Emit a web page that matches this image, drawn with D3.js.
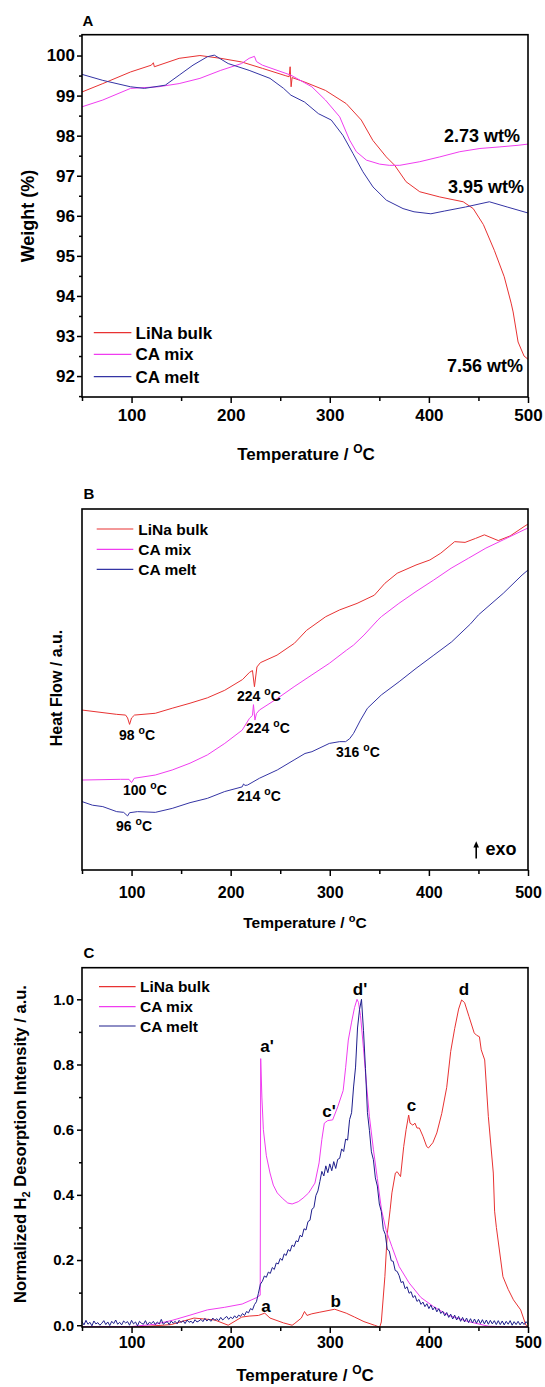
<!DOCTYPE html>
<html>
<head>
<meta charset="utf-8">
<script src="https://cdn.jsdelivr.net/npm/d3@7"></script>
<style>
  body { margin: 0; background: #fff; }
  text { font-family: "Liberation Sans", Arial, sans-serif; font-weight: bold; fill: #000; }
</style>
</head>
<body>
<svg id="fig" width="545" height="1387"></svg>
<script>
// ---- series ----
const seriesNames = ["LiNa bulk", "CA mix", "CA melt"];
const seriesColors = ["#e83232", "#f03cf0", "#3434a4"];
const meltDarkC = "#1e1e8c";

// ---- A: TGA weight (%) vs temperature (°C) ----
const tgaLiNa = [[50,99.09],[71,99.30],[99,99.59],[120,99.76],[122,99.82],[123,99.72],[148,99.93],[169,100.0],[190,99.93],[211,99.84],[232,99.68],[255,99.50],[259,99.47],[260,99.72],[261,99.22],[262,99.45],[274.5,99.34],[295.6,99.13],[316.6,98.80],[331.8,98.39],[343.5,97.88],[357,97.47],[365.5,97.26],[377,96.85],[390.8,96.60],[411,96.47],[434.6,96.35],[444.7,96.18],[455,95.78],[466,95.14],[476,94.48],[483,93.82],[485,93.60],[490,92.85],[496,92.50],[500,92.42]];
const tgaMix = [[50,98.72],[71,98.89],[99,99.18],[127,99.22],[148,99.30],[169,99.43],[190,99.63],[211,99.80],[218.6,99.93],[224,99.98],[226,99.85],[232,99.76],[260.8,99.51],[281.9,99.22],[295.6,98.89],[310,98.47],[320,97.89],[326.8,97.60],[336.9,97.39],[350.3,97.29],[360,97.26],[370.6,97.26],[390.8,97.35],[411,97.47],[431.2,97.60],[451.5,97.68],[471.7,97.72],[490,97.76],[500,97.79]];
const tgaMelt = [[50,99.53],[71,99.38],[99,99.22],[113,99.18],[134,99.26],[148,99.51],[162,99.76],[176.5,99.97],[183.5,100.01],[197.5,99.80],[218.6,99.63],[239.7,99.43],[253.4,99.18],[260.8,99.01],[274.5,98.84],[288.5,98.55],[301.5,98.39],[313.2,98.01],[323.3,97.56],[333.4,97.10],[343.6,96.72],[357.1,96.39],[373.9,96.18],[385,96.10],[402,96.05],[416,96.12],[437,96.22],[461,96.35],[479,96.22],[500,96.07]];
const tgaYTicks = [92, 93, 94, 95, 96, 97, 98, 99, 100];
const tgaNotes = [["2.73 wt%", 520, 141.7], ["3.95 wt%", 524, 192.7], ["7.56 wt%", 523, 371.7]];

// ---- B: DSC heat flow (a.u.) ----
const dscLiNa = [[50,4.40],[85,4.28],[94,4.26],[96,4.18],[98,4.00],[100,4.18],[103,4.26],[124,4.31],[141,4.45],[159,4.59],[176.5,4.74],[194,4.95],[212,5.25],[219,5.45],[222,5.50],[224,5.05],[226.5,5.60],[230,5.72],[246.8,5.93],[264.3,6.26],[276.6,6.62],[295.9,7.00],[310,7.19],[327.5,7.37],[345,7.60],[355.6,7.93],[368,8.21],[387,8.44],[401,8.58],[412,8.77],[426,9.09],[436.5,9.07],[447,9.18],[456,9.28],[470,9.12],[482,9.25],[496,9.51],[500,9.58]];
const dscMix = [[50,2.45],[88.7,2.47],[97.4,2.47],[100,2.38],[102.7,2.50],[124,2.59],[141,2.73],[159,2.92],[176.5,3.15],[194,3.47],[211.6,3.84],[219,4.17],[222,4.25],[223,4.55],[224.5,4.12],[226,4.30],[229,4.40],[247,4.72],[264,5.05],[282,5.38],[299.5,5.70],[317,6.07],[324,6.21],[334.6,6.49],[348.6,6.91],[352,7.00],[369.7,7.37],[387,7.70],[404.8,8.02],[422.4,8.35],[440,8.63],[457.5,8.91],[475,9.14],[496,9.42],[500,9.47]];
const dscMelt = [[50,1.85],[60.5,1.75],[71,1.71],[85,1.57],[92,1.55],[96,1.45],[98,1.54],[106,1.57],[124,1.55],[141,1.66],[159,1.82],[176.5,1.94],[194,2.13],[211.6,2.26],[213,2.34],[214.5,2.30],[217,2.31],[229,2.50],[247,2.73],[264,3.01],[275,3.19],[282,3.24],[299.5,3.47],[310,3.52],[316,3.52],[320,3.60],[324,3.75],[331,4.12],[338,4.45],[352,4.82],[370,5.19],[387,5.56],[405,5.93],[423,6.30],[442,6.80],[450,7.05],[475,7.65],[494,8.16],[500,8.30]];
// [label, left x, baseline]
const dscNotes = [["98", 119, 740], ["224", 237, 701], ["224", 246, 733], ["316", 336, 757], ["100", 123, 795], ["214", 237, 801], ["96", 116, 831]];

// ---- C: normalized H2 desorption intensity ----
const tpdLiNa = [[50,-0.004],[113,-0.004],[140,0.002],[163,0.022],[184,0.016],[197.5,0.0],[211.2,0.025],[218.6,0.028],[228,0.030],[234.4,0.037],[239.7,0.022],[253.4,0.007],[262,0.0],[264,0.004],[271.3,0.022],[274.5,0.042],[277,0.030],[281.9,0.035],[290,0.040],[305,0.049],[316.6,0.037],[325,0.025],[334.5,0.011],[345.1,0.0],[350.4,-0.006],[352,0.010],[355.6,0.149],[358,0.28],[360.9,0.354],[362.7,0.406],[366.2,0.467],[368,0.471],[371.4,0.456],[374.6,0.548],[377,0.60],[379.6,0.645],[381,0.62],[383.8,0.614],[386,0.62],[388,0.605],[390.4,0.605],[394,0.58],[397.8,0.548],[399.6,0.544],[404,0.56],[408,0.59],[413,0.65],[418,0.73],[422,0.84],[426,0.91],[430,0.97],[433,0.998],[436,0.99],[440.5,0.947],[445.7,0.897],[448,0.89],[451,0.885],[452.8,0.845],[456.3,0.814],[460,0.64],[465,0.467],[466.3,0.35],[468.1,0.30],[474.7,0.149],[480,0.11],[485.3,0.078],[492.6,0.047],[497.9,0.0],[500,-0.005]];
const tpdMix = [[50,-0.004],[100,-0.004],[124,0.003],[141,0.015],[158,0.030],[176.5,0.047],[194,0.055],[211.6,0.065],[225.7,0.084],[229.8,0.092],[230.3,0.818],[231.5,0.70],[233,0.60],[236,0.52],[239.7,0.467],[243,0.43],[247,0.406],[252,0.39],[257.6,0.375],[262,0.372],[268.2,0.379],[273,0.39],[278.7,0.406],[285,0.436],[289.2,0.498],[292,0.57],[294.5,0.62],[298,0.628],[302.9,0.63],[308,0.67],[313.5,0.72],[316,0.79],[318.7,0.875],[322,0.93],[325,0.975],[327.5,1.0],[329,0.99],[331,0.95],[334,0.85],[337,0.74],[340,0.64],[344,0.54],[348,0.45],[352.2,0.354],[357,0.29],[362.7,0.241],[370,0.18],[380,0.13],[392,0.085],[404.8,0.057],[420,0.030],[440,0.011],[460,-0.003],[480,-0.005],[500,-0.005]];
// CA melt trace, sampled every 2 °C from 50 to 500 °C
const tpdMeltT = d3.range(50, 501, 2);
const tpdMelt = [
  .011,.001,.015,.003,.009,-.002,.013,.004,.008,.000,
  .006,.014,.002,.010,-.001,.012,.005,.016,.003,.009,
  .001,.013,.007,.011,.000,.015,.004,.010,-.002,.012,
  .006,.003,.014,.001,.009,.005,.012,.002,.010,.004,
  .018,.003,.008,.011,.002,.013,.006,.012,.004,.015,
  .008,.014,.005,.016,.009,.012,.006,.017,.010,.013,
  .018,.011,.021,.013,.019,.012,.022,.015,.020,.014,
  .024,.016,.022,.027,.018,.025,.020,.029,.022,.031,
  .027,.036,.030,.042,.038,.051,.047,.063,.072,.098,
  .126,.135,.151,.147,.163,.159,.177,.171,.191,.188,
  .205,.199,.219,.214,.232,.227,.246,.241,.259,.256,
  .276,.271,.296,.292,.318,.322,.356,.361,.398,.412,
  .441,.472,.458,.489,.468,.495,.474,.502,.481,.509,
  .512,.541,.533,.571,.568,.631,.652,.731,.792,.912,
  .968,1.000,.905,.788,.652,.598,.532,.508,.452,.427,
  .372,.349,.294,.279,.233,.228,.198,.196,.168,.165,
  .152,.131,.134,.112,.118,.098,.103,.085,.091,.073,
  .079,.064,.071,.057,.066,.051,.062,.047,.056,.041,
  .051,.036,.043,.029,.039,.024,.034,.019,.031,.016,
  .027,.012,.024,.010,.022,.008,.020,.007,.019,.006,
  .018,.005,.017,.004,.016,.003,.015,.004,.014,.002,
  .014,.002,.013,.001,.012,.003,.014,.000,.011,.002,
  .012,.001,.010,.002,.011,.004
];
const tpdYTicks = [0, 0.2, 0.4, 0.6, 0.8, 1.0];
const tpdYMinor = [0.1, 0.3, 0.5, 0.7, 0.9];
// [label, centre x, baseline]
const tpdNotes = [["d'", 360, 995], ["d", 464, 995], ["a'", 267, 1052], ["c'", 329, 1117], ["c", 411.6, 1111], ["a", 266, 1311.7], ["b", 335.7, 1307.3]];

const tempMajor = [100, 200, 300, 400, 500];
const tempMinor = [50, 150, 250, 350, 450];

// ---- drawing ----
const svg = d3.select("#fig");
svg.append("rect").attr("width", 545).attr("height", 1387).attr("fill", "#fff");

const L = 82, R = 528;
const x = d3.scaleLinear([50, 500], [L, R]);

function frame(top, bottom) {
  svg.append("rect").attr("x", L).attr("y", top).attr("width", R - L).attr("height", bottom - top)
    .attr("fill", "none").attr("stroke", "#000").attr("stroke-width", 1.6);
}

function xAxis(bottom, fontSize, pad) {
  const g = svg.append("g").attr("transform", `translate(0,${bottom})`)
    .call(d3.axisBottom(x).tickValues(tempMajor).tickSize(6).tickPadding(pad).tickSizeOuter(0));
  g.select(".domain").remove();
  g.selectAll("line").attr("stroke-width", 1.5);
  g.selectAll("text").attr("font-size", fontSize).attr("font-family", null);
  const m = svg.append("g").attr("transform", `translate(0,${bottom})`)
    .call(d3.axisBottom(x).tickValues(tempMinor).tickSize(4).tickFormat(""));
  m.select(".domain").remove();
  m.selectAll("line").attr("stroke-width", 1.5);
}

function yAxis(y, major, minor, fmt, fontSize, pad) {
  const g = svg.append("g").attr("transform", `translate(${L},0)`)
    .call(d3.axisLeft(y).tickValues(major).tickFormat(fmt).tickSize(5).tickPadding(pad).tickSizeOuter(0));
  g.select(".domain").remove();
  g.selectAll("line").attr("stroke-width", 1.5);
  g.selectAll("text").attr("font-size", fontSize).attr("font-family", null);
  const m = svg.append("g").attr("transform", `translate(${L},0)`)
    .call(d3.axisLeft(y).tickValues(minor).tickSize(3).tickFormat(""));
  m.select(".domain").remove();
  m.selectAll("line").attr("stroke-width", 1.5);
}

function curve(data, y, color, width) {
  svg.append("path").datum(data)
    .attr("d", d3.line().x(d => x(d[0])).y(d => y(d[1])))
    .attr("fill", "none").attr("stroke", color).attr("stroke-width", width || 1)
    .attr("stroke-linejoin", "round");
}

function legend(x0, x1, ys, tx, fontSize, colors) {
  seriesNames.forEach((name, i) => {
    svg.append("line").attr("x1", x0).attr("x2", x1).attr("y1", ys[i]).attr("y2", ys[i])
      .attr("stroke", colors[i]).attr("stroke-width", 1.2);
    svg.append("text").attr("x", tx).attr("y", ys[i]).attr("dy", "0.36em")
      .attr("font-size", fontSize).text(name);
  });
}

function tempLabel(cx, baseline, fontSize, supText, supSize, rise) {
  const t = svg.append("text").attr("x", cx).attr("y", baseline).attr("text-anchor", "middle")
    .attr("font-size", fontSize);
  t.append("tspan").text("Temperature / ");
  t.append("tspan").attr("font-size", supSize).attr("dy", -rise).text(supText);
  t.append("tspan").attr("dy", rise).text("C");
}

function yLabel(cy, baselineX, fontSize, build) {
  const t = svg.append("text").attr("transform", `translate(${baselineX},${cy}) rotate(-90)`)
    .attr("text-anchor", "middle").attr("font-size", fontSize);
  build(t);
}

function panelLetter(txt, px, py) {
  svg.append("text").attr("x", px).attr("y", py).attr("font-size", 15).text(txt);
}

// Panel A
const aTop = 34.7, aBottom = 397;
const yA = d3.scaleLinear([91.46, 100.52], [397.7, 34.7]);
panelLetter("A", 82.5, 26);
curve(tgaLiNa, yA, seriesColors[0]);
curve(tgaMix, yA, seriesColors[1]);
curve(tgaMelt, yA, seriesColors[2]);
frame(aTop, aBottom);
xAxis(aBottom, 17, 6);
yAxis(yA, tgaYTicks, d3.range(91.5, 100.6, 1), d3.format("d"), 17, 2);
tgaNotes.forEach(([s, tx, ty]) => svg.append("text").attr("x", tx).attr("y", ty)
  .attr("text-anchor", "end").attr("font-size", 18).text(s));
legend(93.8, 131.4, [332.7, 354.3, 376.7], 135.6, 17, seriesColors);
tempLabel(306, 460, 17, "O", 12, 7);
yLabel(216, 34, 18, t => t.text("Weight (%)"));

// Panel B
const bTop = 509, bBottom = 870;
const yB = d3.scaleLinear([0, 10], [868, 509]);
panelLetter("B", 83.4, 499);
curve(dscLiNa, yB, seriesColors[0]);
curve(dscMix, yB, seriesColors[1]);
curve(dscMelt, yB, seriesColors[2]);
frame(bTop, bBottom);
xAxis(bBottom, 16, 10.5);
legend(96.7, 133.3, [529, 549.3, 569.3], 138.3, 15.5, seriesColors);
dscNotes.forEach(([s, tx, ty]) => {
  const t = svg.append("text").attr("x", tx).attr("y", ty).attr("font-size", 14);
  t.append("tspan").text(s + " ");
  t.append("tspan").attr("font-size", 10.5).attr("dy", -6).text("o");
  t.append("tspan").attr("dy", 6).text("C");
});
// exotherm direction marker
svg.append("line").attr("x1", 476.2).attr("x2", 476.2).attr("y1", 858.5).attr("y2", 845)
  .attr("stroke", "#000").attr("stroke-width", 1.6);
svg.append("path").attr("d", "M476.2,841.2 L473.4,847.5 L479,847.5 Z").attr("fill", "#000");
svg.append("text").attr("x", 485.5).attr("y", 855).attr("font-size", 18).text("exo");
tempLabel(305, 928, 15.5, "o", 11, 6);
yLabel(688, 62, 16, t => t.text("Heat Flow / a.u."));

// Panel C
const cTop = 967.7, cBottom = 1327;
const yC = d3.scaleLinear([-0.007, 1.097], [1327.5, 967.7]);
panelLetter("C", 83.4, 958);
curve(tpdLiNa, yC, seriesColors[0]);
curve(tpdMix, yC, seriesColors[1]);
curve(tpdMelt.map((v, i) => [tpdMeltT[i], v]), yC, meltDarkC, 1);
frame(cTop, cBottom);
xAxis(cBottom, 16, 3.5);
yAxis(yC, tpdYTicks, tpdYMinor, d3.format(".1f"), 15, 3);
legend(99, 135.6, [986.7, 1006.7, 1026], 140, 15.5, [seriesColors[0], seriesColors[1], meltDarkC]);
tpdNotes.forEach(([s, tx, ty]) => svg.append("text").attr("x", tx).attr("y", ty)
  .attr("text-anchor", "middle").attr("font-size", 17).text(s));
tempLabel(305, 1381, 17, "O", 12, 7);
yLabel(1144, 26, 16.5, t => {
  t.append("tspan").text("Normalized H");
  t.append("tspan").attr("font-size", 11).attr("dy", 4).text("2");
  t.append("tspan").attr("dy", -4).text(" Desorption Intensity / a.u.");
});
</script>
</body>
</html>
